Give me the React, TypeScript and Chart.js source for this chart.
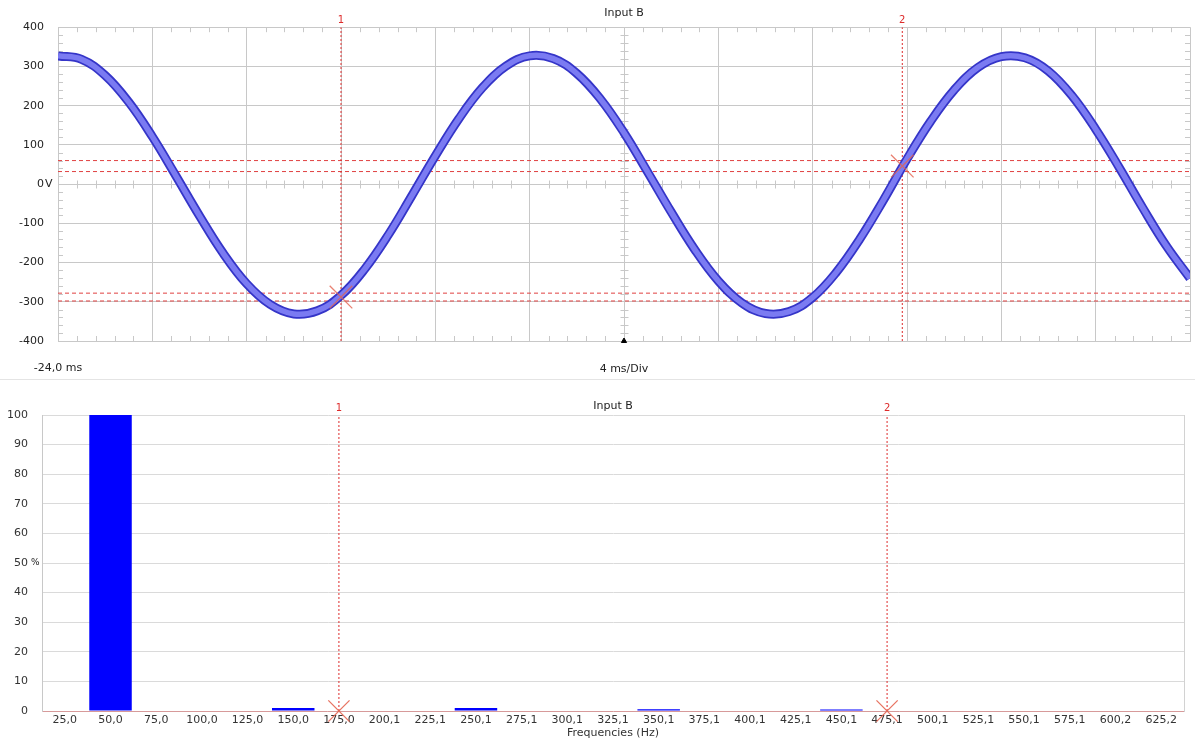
import React, { useEffect, useRef } from 'react';
import { Chart, registerables } from 'chart.js';

Chart.register(...registerables);

// ---------- Top panel (oscilloscope, Input B) ----------
const timeMs = [
  -24, -23, -22, -21, -20, -19, -18, -17, -16, -15, -14, -13, -12, -11, -10, -9, -8, -7, -6, -5, -4, -3, -2, -1,
  0, 1, 2, 3, 4, 5, 6, 7, 8, 9, 10, 11, 12, 13, 14, 15, 16, 17, 18, 19, 20, 21, 22, 23, 24,
];
const voltage = [
  327, 318, 277, 209, 121, 21, -81, -176, -254, -307, -331, -323, -284, -217, -130, -30, 72, 167, 246, 301, 327, 320, 282, 217,
  131, 31, -71, -167, -247, -303, -330, -325, -289, -225, -140, -41, 64, 160, 240, 297, 325, 322, 288, 225, 140, 42, -61, -158, -240,
];
const cursorNames = ['1', '2'];
const cursorTimes = [-12.0, 11.8];
const cursorVoltages = [-288, 46];
const cursorBands = [60, 32, -278, -298];
const voltTicks = { min: -400, max: 400, step: 100 };
const timeTicks = { min: -24, max: 24, step: 4 };
const timeStartLabel = '-24,0 ms';
const timeAxisTitle = '4 ms/Div';
const panelTitle = 'Input B';

// ---------- Bottom panel (spectrum) ----------
const freqLabels = [
  '25,0', '50,0', '75,0', '100,0', '125,0', '150,0', '175,0', '200,1', '225,1', '250,1', '275,1', '300,1', '325,1',
  '350,1', '375,1', '400,1', '425,1', '450,1', '475,1', '500,1', '525,1', '550,1', '575,1', '600,2', '625,2',
];
const amplitudePct = [0, 100, 0, 0, 0, 1.0, 0, 0, 0, 1.0, 0, 0, 0, 0.6, 0, 0, 0, 0.5, 0, 0, 0, 0, 0, 0, 0];
const freqCursors = ['175,0', '475,1'];
const pctTicks = { min: 0, max: 100, step: 10 };
const freqAxisTitle = 'Frequencies (Hz)';

const FONT = "'DejaVu Sans', sans-serif";
const GRID = '#c8c8c8';
const TEXT = '#222';
const RED = '#dd2b2b';

const topDecor = {
  id: 'topDecor',
  beforeDatasetsDraw(chart: any) {
    const { ctx, chartArea: a, scales } = chart;
    const x = scales.x;
    const y = scales.y;
    const x0 = Math.round(x.getPixelForValue(0)) + 0.5;
    const y0 = Math.round(y.getPixelForValue(0)) + 0.5;
    ctx.save();
    ctx.strokeStyle = GRID;
    ctx.lineWidth = 1;
    ctx.beginPath();
    const xMinor = timeTicks.step / 5;
    const nx = Math.round((timeTicks.max - timeTicks.min) / xMinor);
    for (let i = 0; i <= nx; i++) {
      if (i % 5 === 0) continue;
      const px = Math.round(x.getPixelForValue(timeTicks.min + i * xMinor)) + 0.5;
      ctx.moveTo(px, a.top); ctx.lineTo(px, a.top + 5);
      ctx.moveTo(px, a.bottom); ctx.lineTo(px, a.bottom - 5);
      ctx.moveTo(px, y0 - 4); ctx.lineTo(px, y0 + 4);
    }
    const yMinor = voltTicks.step / 5;
    const ny = Math.round((voltTicks.max - voltTicks.min) / yMinor);
    for (let i = 0; i <= ny; i++) {
      if (i % 5 === 0) continue;
      const py = Math.round(y.getPixelForValue(voltTicks.min + i * yMinor)) + 0.5;
      ctx.moveTo(a.left, py); ctx.lineTo(a.left + 5, py);
      ctx.moveTo(a.right, py); ctx.lineTo(a.right - 5, py);
      ctx.moveTo(x0 - 4, py); ctx.lineTo(x0 + 4, py);
    }
    ctx.stroke();
    ctx.restore();
  },
  afterDraw(chart: any) {
    const { ctx, scales } = chart;
    const x = scales.x;
    const y = scales.y;
    ctx.save();
    ctx.font = `10px ${FONT}`;
    ctx.fillStyle = RED;
    ctx.textAlign = 'center';
    ctx.textBaseline = 'middle';
    cursorTimes.forEach((t, i) => ctx.fillText(cursorNames[i], x.getPixelForValue(t), 20));
    ctx.font = `11px ${FONT}`;
    ctx.fillStyle = TEXT;
    ctx.textAlign = 'left';
    ctx.fillText('V', y.right - 14 + 1, y.getPixelForValue(0));
    ctx.restore();
  },
};

const bottomDecor = {
  id: 'bottomDecor',
  afterDraw(chart: any) {
    const { ctx, scales } = chart;
    const x = scales.x;
    const y = scales.y;
    ctx.save();
    ctx.font = `10px ${FONT}`;
    ctx.fillStyle = RED;
    ctx.textAlign = 'center';
    ctx.textBaseline = 'middle';
    freqCursors.forEach((f, i) => ctx.fillText(cursorNames[i], x.getPixelForValue(freqLabels.indexOf(f)), 28));
    ctx.font = `9px ${FONT}`;
    ctx.fillStyle = TEXT;
    ctx.textAlign = 'left';
    ctx.fillText('%', y.right - 14 + 3, y.getPixelForValue(50));
    ctx.restore();
  },
};

export default function App() {
  const topRef = useRef<HTMLCanvasElement | null>(null);
  const bottomRef = useRef<HTMLCanvasElement | null>(null);

  useEffect(() => {
    Chart.defaults.font.family = FONT;
    Chart.defaults.font.size = 11;
    Chart.defaults.color = TEXT;

    const wave = timeMs.map((t, i) => ({ x: t, y: voltage[i] }));

    const top = new Chart(topRef.current as HTMLCanvasElement, {
      type: 'line',
      data: {
        datasets: [
          {
            type: 'line',
            data: cursorTimes.map((t, i) => ({ x: t, y: cursorVoltages[i] })),
            showLine: false,
            pointStyle: 'crossRot',
            pointRadius: 16,
            borderColor: 'rgba(228,100,80,0.8)',
            borderWidth: 1.3,
            order: 0,
          } as any,
          {
            type: 'line',
            data: [{ x: 0, y: voltTicks.min }],
            showLine: false,
            pointStyle: 'triangle',
            pointRadius: 3,
            backgroundColor: '#000',
            borderColor: '#000',
            clip: false,
            order: 0,
          } as any,
          {
            data: wave,
            borderColor: '#7b7bf2',
            borderWidth: 5.5,
            tension: 0.4,
            pointRadius: 0,
            order: 1,
          },
          {
            data: wave,
            borderColor: '#3535c8',
            borderWidth: 9,
            tension: 0.4,
            pointRadius: 0,
            order: 2,
          },
          ...cursorTimes.map((t) => ({
            data: [{ x: t, y: voltTicks.min }, { x: t, y: voltTicks.max }],
            borderColor: RED,
            borderWidth: 1,
            borderDash: [2, 2],
            pointRadius: 0,
            order: 3,
          })),
          ...cursorBands.map((v) => ({
            data: [{ x: timeTicks.min, y: v }, { x: timeTicks.max, y: v }],
            borderColor: '#e04040',
            borderWidth: 1,
            borderDash: [4, 3],
            pointRadius: 0,
            order: 3,
          })),
        ],
      },
      options: {
        responsive: false,
        animation: false,
        events: [],
        layout: { autoPadding: false, padding: { left: 0, right: 5, top: 0, bottom: 0 } },
        plugins: {
          legend: { display: false },
          tooltip: { enabled: false },
          title: {
            display: true,
            text: panelTitle,
            fullSize: false,
            color: TEXT,
            font: { size: 11, weight: 'normal' },
            padding: { top: 7, bottom: 7 },
          },
        },
        scales: {
          x: {
            type: 'linear',
            min: timeTicks.min,
            max: timeTicks.max,
            ticks: {
              stepSize: timeTicks.step,
              autoSkip: false,
              maxRotation: 0,
              padding: 21,
              color: TEXT,
              callback: (v: any) => (Number(v) === timeTicks.min ? timeStartLabel : ''),
            },
            grid: { color: GRID, drawTicks: false },
            border: { color: GRID },
            title: { display: true, text: timeAxisTitle, color: TEXT, font: { size: 11 }, padding: { top: 0, bottom: 2 } },
            afterFit: (s: any) => { s.height = 37; s.paddingLeft = 0; s.paddingRight = 0; },
          },
          y: {
            type: 'linear',
            min: voltTicks.min,
            max: voltTicks.max,
            ticks: { stepSize: voltTicks.step, padding: 14, color: TEXT },
            grid: { color: GRID, drawTicks: false },
            border: { color: GRID },
            afterFit: (s: any) => { s.width = 58; s.paddingTop = 0; s.paddingBottom = 0; },
          },
        },
      },
      plugins: [topDecor],
    });

    const bottom = new Chart(bottomRef.current as HTMLCanvasElement, {
      type: 'bar',
      data: {
        labels: freqLabels,
        datasets: [
          {
            type: 'line',
            data: freqCursors.map((f) => ({ x: f, y: 0 })),
            showLine: false,
            pointStyle: 'crossRot',
            pointRadius: 15,
            borderColor: 'rgba(228,100,80,0.9)',
            borderWidth: 1.3,
            clip: false,
            order: 0,
          } as any,
          ...freqCursors.map((f) => ({
            type: 'line',
            data: [{ x: f, y: pctTicks.min }, { x: f, y: pctTicks.max }],
            borderColor: RED,
            borderWidth: 1,
            borderDash: [2, 2],
            pointRadius: 0,
            order: 1,
          } as any)),
          {
            type: 'bar',
            data: amplitudePct,
            backgroundColor: '#0000ff',
            borderWidth: 0,
            barPercentage: 0.93,
            categoryPercentage: 1,
            order: 2,
          },
        ],
      },
      options: {
        responsive: false,
        animation: false,
        events: [],
        layout: { autoPadding: false, padding: { left: 0, right: 11, top: 0, bottom: 0 } },
        plugins: {
          legend: { display: false },
          tooltip: { enabled: false },
          title: {
            display: true,
            text: panelTitle,
            fullSize: false,
            color: TEXT,
            font: { size: 11, weight: 'normal' },
            padding: { top: 20, bottom: 1.8 },
          },
        },
        scales: {
          x: {
            type: 'category',
            offset: true,
            ticks: { autoSkip: false, maxRotation: 0, padding: 3, color: '#333' },
            grid: { display: false, drawTicks: false },
            border: { display: true, color: '#d79a9a', dash: [4, 3] },
            title: { display: true, text: freqAxisTitle, color: '#333', font: { size: 11 }, padding: { top: 0, bottom: 3 } },
            afterFit: (s: any) => { s.height = 32; s.paddingLeft = 0; s.paddingRight = 0; },
          },
          y: {
            type: 'linear',
            min: pctTicks.min,
            max: pctTicks.max,
            ticks: { stepSize: pctTicks.step, padding: 14, color: '#333' },
            grid: {
              drawTicks: false,
              color: (c: any) => (c.tick && c.tick.value === 0 ? 'rgba(0,0,0,0)' : '#dadada'),
            },
            border: { color: '#c8c8c8' },
            afterFit: (s: any) => { s.width = 42; s.paddingTop = 0; s.paddingBottom = 0; },
          },
          y2: {
            type: 'linear',
            position: 'right',
            display: true,
            min: pctTicks.min,
            max: pctTicks.max,
            ticks: { display: false },
            grid: { display: false, drawTicks: false },
            border: { color: '#d2d2d2' },
            afterFit: (s: any) => { s.width = 0; s.paddingTop = 0; s.paddingBottom = 0; },
          },
        },
      },
      plugins: [bottomDecor],
    });

    return () => {
      top.destroy();
      bottom.destroy();
    };
  }, []);

  return (
    <div style={{ position: 'absolute', left: 0, top: 0, width: 1195, height: 743, background: '#fff', overflow: 'hidden' }}>
      <canvas ref={topRef} width={1195} height={378} style={{ position: 'absolute', left: 0, top: 0 }} />
      <div style={{ position: 'absolute', left: 0, top: 379, width: 1195, height: 1, background: '#e4e4e4' }} />
      <canvas ref={bottomRef} width={1195} height={363} style={{ position: 'absolute', left: 0, top: 380 }} />
    </div>
  );
}
